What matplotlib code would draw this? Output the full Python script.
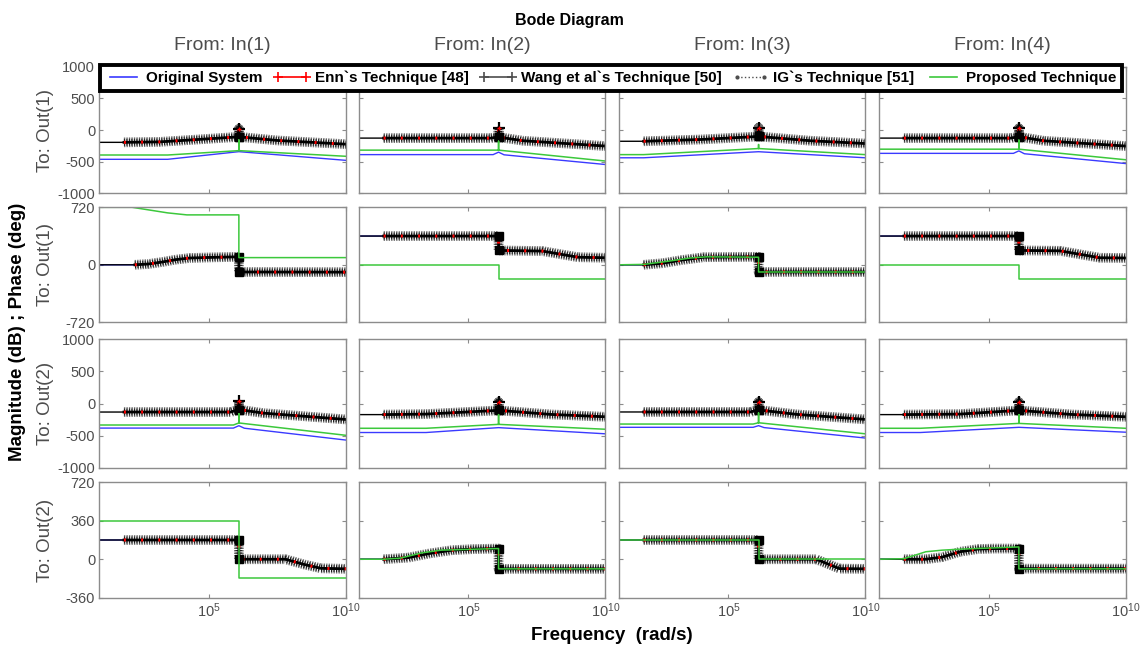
import numpy as np
import matplotlib
matplotlib.use("Agg")
import matplotlib.pyplot as plt
from matplotlib.lines import Line2D
from matplotlib.ticker import FixedLocator, NullLocator, NullFormatter, LogFormatterMathtext

plt.rcParams['font.family'] = ['Liberation Sans', 'DejaVu Sans']
plt.rcParams['mathtext.fontset'] = 'custom'
plt.rcParams['mathtext.rm'] = 'Liberation Sans'
plt.rcParams['lines.scale_dashes'] = False
plt.rcParams['axes.unicode_minus'] = False

# texts
in_labels = ['From: In(1)', 'From: In(2)', 'From: In(3)', 'From: In(4)']
out_labels = ['To: Out(1)', 'To: Out(1)', 'To: Out(2)', 'To: Out(2)']
legend_labels = ['Original System', 'Enn`s Technique [48]', 'Wang et al`s Technique [50]',
                 'IG`s Technique [51]', 'Proposed Technique']
row_ylim = [(-1000, 1000), (-720, 720), (-1000, 1000), (-360, 720)]
row_yticks = [[-1000, -500, 0, 500, 1000], [-720, 0, 720],
              [-1000, -500, 0, 500, 1000], [-360, 0, 360, 720]]
x_ticks = [1e5, 1e10]
x_lim = (1e1, 1e10)

# data: (log10 of frequency in rad/s, value) knots, one entry per input
# Out(1) magnitude (dB)
mag1_orig = [
    ([1, 3.5, 6.1, 10], [-463, -463, -342, -479]),
    ([1, 5.9, 6.1, 6.3, 10], [-389, -389, -350, -392, -545]),
    ([1, 1.9, 6.1, 10], [-439, -439, -343, -439]),
    ([1, 5.9, 6.1, 6.3, 10], [-369, -369, -330, -375, -530]),
]
mag1_red = [
    ([1, 1.9, 3.2, 4.6, 6.1, 6.1, 6.1, 7.5, 10.05], [-195, -195, -188, -150, -108, 15, -108, -165, -225]),
    ([1, 1.9, 5.8, 6.1, 6.1, 6.1, 7.0, 10.05], [-128, -128, -128, -112, 35, -112, -170, -255]),
    ([1, 1.9, 4.0, 6.1, 6.1, 6.1, 8.0, 10.05], [-178, -178, -150, -102, 35, -102, -170, -215]),
    ([1, 1.9, 5.8, 6.1, 6.1, 6.1, 7.0, 10.05], [-128, -128, -128, -105, 25, -105, -170, -255]),
]
mag1_prop = [
    ([1, 3.5, 6.1, 6.1, 6.1, 10], [-395, -395, -326, -158, -326, -415]),
    ([1, 6.1, 6.1, 6.1, 10], [-318, -318, -177, -318, -490]),
    ([1, 1.9, 6.1, 6.1, 6.1, 10], [-389, -389, -293, -230, -293, -389]),
    ([1, 6.1, 6.1, 6.1, 10], [-303, -303, -160, -303, -470]),
]
# Out(1) phase (deg)
ph1_red = [
    ([1, 2.3, 2.8, 3.3, 3.8, 4.3, 5.0, 6.1, 6.1, 10.05], [0, 0, 10, 35, 65, 85, 92, 100, -90, -92]),
    ([1, 1.9, 6.1, 6.1, 7.7, 9.0, 10.05], [360, 360, 360, 180, 172, 95, 88]),
    ([1, 1.9, 2.6, 3.3, 4.1, 6.1, 6.1, 10.05], [0, 0, 20, 60, 95, 100, -90, -90]),
    ([1, 1.9, 6.1, 6.1, 7.6, 9.06, 10.05], [360, 360, 360, 180, 175, 88, 85]),
]
ph1_prop = [
    ([1, 2.2, 3.5, 4.2, 6.1, 6.1, 10], [720, 720, 650, 625, 625, 90, 90]),
    ([1, 6.1, 6.1, 10], [0, 0, -180, -180]),
    ([1, 1.9, 2.8, 3.6, 4.2, 6.1, 6.1, 10], [0, 5, 45, 85, 100, 95, -90, -90]),
    ([1, 6.1, 6.1, 10], [0, 0, -180, -180]),
]
# Out(2) magnitude (dB)
mag2_orig = [
    ([1, 5.9, 6.1, 6.3, 10], [-383, -383, -346, -385, -569]),
    ([1, 3.45, 6.1, 10], [-452, -452, -376, -472]),
    ([1, 5.9, 6.1, 6.3, 10], [-371, -371, -345, -375, -538]),
    ([1, 2.5, 6.1, 10], [-452, -452, -371, -447]),
]
mag2_red = [
    ([1, 1.9, 5.8, 6.1, 6.1, 6.1, 7.0, 10.05], [-133, -133, -133, -95, 40, -95, -150, -250]),
    ([1, 1.9, 3.45, 6.1, 6.1, 6.1, 8.0, 10.05], [-173, -173, -165, -107, 20, -107, -170, -208]),
    ([1, 1.9, 5.8, 6.1, 6.1, 6.1, 7.5, 10.05], [-132, -132, -132, -100, 20, -100, -170, -249]),
    ([1, 1.9, 3.95, 6.1, 6.1, 6.1, 8.0, 10.05], [-173, -173, -165, -107, 20, -107, -170, -208]),
]
mag2_prop = [
    ([1, 5.9, 6.1, 6.1, 6.1, 10], [-335, -335, -303, -160, -303, -495]),
    ([1, 3.45, 6.1, 6.1, 6.1, 10], [-386, -386, -325, -173, -325, -401]),
    ([1, 5.9, 6.1, 6.1, 6.1, 10], [-320, -320, -300, -147, -300, -472]),
    ([1, 2.5, 6.1, 6.1, 6.1, 10], [-386, -386, -310, -173, -310, -386]),
]
# Out(2) phase (deg)
ph2_red = [
    ([1, 1.9, 6.1, 6.1, 7.8, 8.5, 9.1, 10.05], [180, 180, 180, 0, 0, -50, -85, -90]),
    ([1, 1.9, 2.8, 3.6, 4.4, 5.2, 6.1, 6.1, 10.05], [0, 0, 15, 55, 85, 95, 100, -90, -90]),
    ([1, 1.9, 6.1, 6.1, 8.2, 9.06, 10.05], [180, 180, 180, 0, 0, -88, -90]),
    ([1, 1.9, 2.7, 3.3, 3.95, 4.6, 5.2, 6.1, 6.1, 10.05], [0, 0, 0, 20, 70, 95, 100, 100, -88, -88]),
]
ph2_prop = [
    ([1, 6.1, 6.1, 10], [360, 360, -180, -180]),
    ([1, 1.9, 2.5, 3.3, 4.0, 6.1, 6.1, 10], [0, 0, 10, 60, 85, 100, -90, -90]),
    ([1, 6.1, 6.1, 10], [180, 180, 0, 0]),
    ([1, 1.9, 2.7, 3.3, 4.0, 6.1, 6.1, 10], [0, 5, 70, 85, 95, 115, -90, -90]),
]

# original system phase lies under the reduced models
rows = [
    (mag1_orig, mag1_red, mag1_prop, True),
    (ph1_red, ph1_red, ph1_prop, False),
    (mag2_orig, mag2_red, mag2_prop, True),
    (ph2_red, ph2_red, ph2_prop, False),
]

BLUE = '#3a3aff'
GREEN = '#3cc83c'
GRAY = '#8c8c8c'
TXT = '#4d4d4d'

W, H = 1140, 653
col_left = [99.3, 359.0, 619.0, 879.3]
col_w = 246.3
row_px = [(66.7, 193.3), (207.3, 322.3), (339.3, 467.7), (482.3, 597.7)]

fig = plt.figure(figsize=(W / 100, H / 100), dpi=100)

for r in range(4):
    orig_l, red_l, prop_l, is_mag = rows[r]
    top, bot = row_px[r]
    for c in range(4):
        ax = fig.add_axes([col_left[c] / W, 1 - bot / H, col_w / W, (bot - top) / H])
        ax.set_xscale('log')

        wo = 10.0 ** np.array(orig_l[c][0]); yo = np.array(orig_l[c][1])
        wr = 10.0 ** np.array(red_l[c][0]); yr = np.array(red_l[c][1])
        wp = 10.0 ** np.array(prop_l[c][0]); yp = np.array(prop_l[c][1])

        ax.plot(wo, yo, color=BLUE, lw=1.0)
        # reduced models: dense '+' markers look like a hatched band
        ax.plot(wr, yr, color='black', lw=1.0)
        ax.plot(wr[1:], yr[1:], color='0.45', lw=7, dashes=(1.0, 0.8))
        ax.plot(wr[1:], yr[1:], color='0.1', lw=5, dashes=(0.7, 1.1))
        ax.plot(wr[1:], yr[1:], color='black', lw=2.0)
        ax.plot(wr[1:], yr[1:], color='red', lw=2.2, dashes=(1.4, 11))
        same = np.zeros(len(wr), bool)
        eq = wr[1:] == wr[:-1]
        same[1:] |= eq
        same[:-1] |= eq
        if is_mag:
            k = np.argmax(yr)
            blob = same.copy(); blob[k] = False
            ax.plot(wr[k], yr[k], marker='+', color='black', ms=8, mew=1.6, ls='none')
            ax.plot(wr[k], yr[k], marker='+', color='red', ms=3, mew=1.0, ls='none')
        else:
            blob = same
        ax.plot(wr[blob], yr[blob], marker='s', color='black', ms=6, ls='none')
        ax.plot(wp, yp, color=GREEN, lw=1.1)

        ax.set_xlim(*x_lim)
        ax.set_ylim(*row_ylim[r])
        ax.xaxis.set_major_locator(FixedLocator(x_ticks))
        ax.xaxis.set_minor_locator(NullLocator())
        ax.yaxis.set_major_locator(FixedLocator(row_yticks[r]))
        if r == 3:
            ax.xaxis.set_major_formatter(LogFormatterMathtext())
        else:
            ax.xaxis.set_major_formatter(NullFormatter())
        if c != 0:
            ax.yaxis.set_major_formatter(NullFormatter())
        ax.tick_params(direction='in', top=True, right=True, length=3, width=0.8,
                       color=GRAY, labelcolor=TXT, labelsize=10.5, pad=3)
        for s in ax.spines.values():
            s.set_color(GRAY)
            s.set_linewidth(1.0)

    fig.text(45 / W, 1 - (top + bot) / 2 / H, out_labels[r], rotation=90, ha='center',
             va='center', color=TXT, fontsize=13.5)

for c in range(4):
    fig.text((col_left[c] + col_w / 2) / W, 1 - 45 / H, in_labels[c], ha='center',
             va='center', color=TXT, fontsize=14)

fig.text(569 / W, 1 - 20 / H, 'Bode Diagram', ha='center', va='center',
         fontsize=11.5, fontweight='bold')
fig.text(612 / W, 1 - 636 / H, 'Frequency  (rad/s)', ha='center', va='center',
         fontsize=13.5, fontweight='bold')
fig.text(18 / W, 1 - 332 / H, 'Magnitude (dB) ; Phase (deg)', rotation=90, ha='center',
         va='center', fontsize=13.5, fontweight='bold')

handles = [
    Line2D([], [], color=BLUE, lw=1.2),
    Line2D([], [], color='red', lw=1.2, marker='+', ms=7, mew=1.2),
    Line2D([], [], color='0.3', lw=1.2, marker='+', ms=7, mew=1.2),
    Line2D([], [], color='0.3', lw=1.0, ls=':', marker='.', ms=4),
    Line2D([], [], color=GREEN, lw=1.2),
]
leg = fig.legend(handles, legend_labels, loc='center', bbox_to_anchor=(611 / W, 1 - 78 / H),
                 ncol=5, frameon=True, fancybox=False, edgecolor='black', framealpha=1,
                 prop={'weight': 'bold', 'size': 11}, handlelength=2.4, handletextpad=0.3,
                 columnspacing=0.7, borderpad=0.35, numpoints=2)
leg.get_frame().set_linewidth(2.8)

fig.savefig('out.png', dpi=100)
